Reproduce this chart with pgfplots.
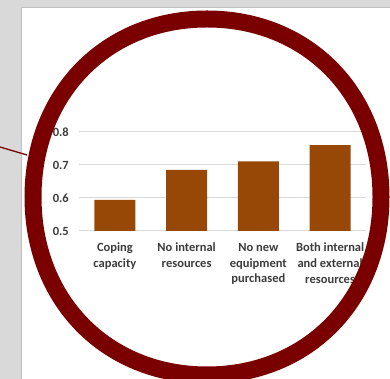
\documentclass[border=0pt]{standalone}
\usepackage{pgfplots}
\pgfplotsset{compat=1.18}
\usepackage{fontspec}
\setmainfont{Carlito}
\definecolor{bggray}{RGB}{217,217,217}
\definecolor{ringred}{RGB}{122,0,0}
\definecolor{barbrown}{RGB}{152,72,6}
\definecolor{txtgray}{RGB}{60,60,60}
\definecolor{gridgray}{RGB}{217,217,217}
\begin{document}
\begin{tikzpicture}[x=1pt,y=1pt]
\useasboundingbox (0,0) rectangle (390,379);
\begin{scope}
\clip (0,0) rectangle (390,379);
\fill[bggray] (0,0) rectangle (390,379);
\fill[white] (21,-2) rectangle (392,372);
\draw[black!25, line width=0.8] (21,-2) -- (21,372) -- (392,372);
\begin{axis}[
  at={(79pt,148pt)}, anchor=south west,
  scale only axis, width=287pt, height=99pt,
  xmin=-0.5, xmax=3.5, ymin=0.5, ymax=0.8,
  ytick={0.5,0.6,0.7,0.8},
  yticklabels={0.5,0.6,0.7,0.8},
  xtick={0,1,2,3},
  xticklabels={{Coping\\capacity},{No internal\\resources},{No new\\equipment\\purchased},{Both internal\\and external\\resources}},
  axis line style={draw=none},
  major tick length=0pt,
  ymajorgrids, grid style={gridgray, line width=1pt},
  tick label style={font=\fontsize{12.5}{15.7}\selectfont\bfseries, text=txtgray},
  yticklabel style={inner sep=0pt, anchor=east, xshift=-10pt},
  xticklabel style={inner sep=0pt, anchor=north, yshift=-12pt, align=center},
  ybar, bar width=41pt, bar shift=0pt,
  clip=false,
]
\addplot[fill=barbrown, draw=none] coordinates {(0,0.594) (1,0.685) (2,0.711) (3,0.760)};
\end{axis}
% near-circular ring (k = 0.58)
\draw[ringred, line width=17]
  (381,182) .. controls (381,285.2) and (307.9,360) .. (207,360)
  .. controls (106.1,360) and (33,285.2) .. (33,182)
  .. controls (33,78.8) and (106.1,4) .. (207,4)
  .. controls (307.9,4) and (381,78.8) .. cycle;
\draw[ringred, line width=1.3] (0,232) -- (27,224);
\end{scope}
\end{tikzpicture}
\end{document}
